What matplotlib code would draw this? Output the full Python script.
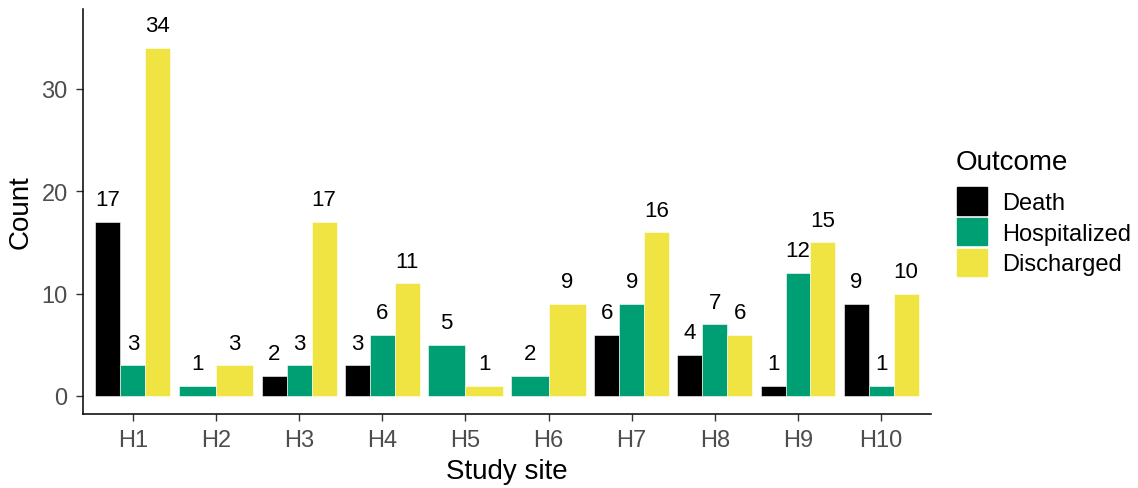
import matplotlib.pyplot as plt
import numpy as np

sites = ["H1", "H2", "H3", "H4", "H5", "H6", "H7", "H8", "H9", "H10"]
outcomes = ["Death", "Hospitalized", "Discharged"]
death = [17, 0, 2, 3, 0, 0, 6, 4, 1, 9]
hospitalized = [3, 1, 3, 6, 5, 2, 9, 7, 12, 1]
discharged = [34, 3, 17, 11, 1, 9, 16, 6, 15, 10]
colors = ["#000000", "#009E73", "#F0E442"]

plt.rcParams['font.family'] = ['Liberation Sans', 'DejaVu Sans']

fig = plt.figure(figsize=(11.38, 4.89), dpi=100)
ax = fig.add_axes([83 / 1138, 74 / 489, 848 / 1138, 405 / 489])

counts = np.array([death, hospitalized, discharged])
group_w = 0.9
handles = []
for i, site in enumerate(sites):
    x0 = i + 1
    # zero counts get no bar, the rest share the group width
    present = [k for k in range(3) if counts[k, i] > 0]
    w = group_w / len(present)
    for j, k in enumerate(present):
        xc = x0 - group_w / 2 + w * (j + 0.5)
        ax.bar(xc, counts[k, i], width=w, color=colors[k], edgecolor='white', linewidth=0.4)
        ax.annotate(str(counts[k, i]), (xc, counts[k, i]), xytext=(0, 12),
                    textcoords='offset points', ha='center', va='baseline',
                    fontsize=16, color='black')

for k in range(3):
    handles.append(plt.Rectangle((0, 0), 1, 1, color=colors[k], label=outcomes[k]))

ax.set_xlim(0.4, 10.6)
ax.set_ylim(-1.76, 37.8)
ax.set_xticks(np.arange(1, 11))
ax.set_xticklabels(sites)
ax.set_yticks([0, 10, 20, 30])
ax.tick_params(axis='both', labelsize=17, labelcolor='#4D4D4D', color='#333333', length=5, width=1, pad=6)
for s in ['top', 'right']:
    ax.spines[s].set_visible(False)
for s in ['left', 'bottom']:
    ax.spines[s].set_linewidth(1.1)
ax.set_xlabel("Study site", fontsize=20, labelpad=5)
ax.set_ylabel("Count", fontsize=20, labelpad=6)

fig.text(956 / 1138, 1 - 163 / 489, "Outcome", fontsize=20, ha='left', va='center')
leg = fig.legend(handles=handles, loc='upper left', bbox_to_anchor=(957 / 1138, 1 - 188 / 489),
                 frameon=False, fontsize=17, handlelength=1.25, handleheight=1.42,
                 handletextpad=0.65, labelspacing=0.14, borderpad=0, borderaxespad=0)

fig.savefig("out.png", dpi=100)
